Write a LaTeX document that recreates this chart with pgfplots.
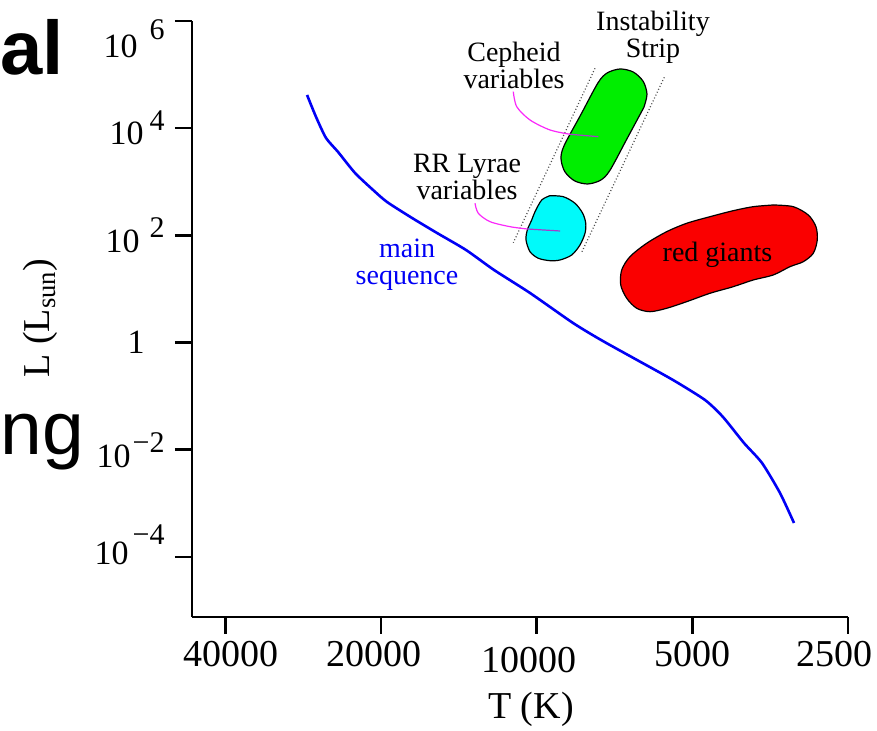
\documentclass[border=0pt]{standalone}
\usepackage{fontspec}
\setmainfont{Liberation Serif}
\newfontfamily\arialfont{Liberation Sans}
\usepackage{pgfplots}
\usepackage{pgfplotstable}
\pgfplotsset{compat=1.18}
\definecolor{msblue}{RGB}{0,0,245}
\definecolor{cgreen}{RGB}{0,238,0}
\definecolor{rrcyan}{RGB}{0,250,250}
\definecolor{rgred}{RGB}{250,0,0}
\definecolor{lead}{RGB}{250,40,250}
\definecolor{leadin}{RGB}{165,60,205}
\newcommand\sups[3]{10\hspace*{#1}\raisebox{#2}{\fontsize{15}{15}\selectfont #3}}

% main sequence: log10 T [K], log10 L [L_sun]
\pgfplotstableread{
logT logL
4.4444 4.6194
4.4270 4.2089
4.4077 3.8171
4.3844 3.5559
4.3516 3.1641
4.3167 2.8470
4.2897 2.6231
4.2413 2.3246
4.1930 2.0447
4.1369 1.7275
4.0827 1.3544
4.0131 0.9253
3.9299 0.3656
3.8757 0.0484
3.8061 -0.3247
3.7365 -0.6979
3.6746 -1.0710
3.6398 -1.3882
3.5992 -1.8733
3.5643 -2.2464
3.5295 -2.8061
3.5024 -3.3658
}\mainseq

\begin{document}
\begin{tikzpicture}
\begin{axis}[
  at={(0,0)}, anchor=south west,
  scale only axis, width=328pt, height=298pt,
  xmin=3.39794, xmax=4.667, ymin=-5.12, ymax=6,
  x dir=reverse,
  axis x line=bottom, axis y line=left,
  axis line style={-, line width=1.3pt},
  tick align=outside,
  major tick length=8.5pt,
  tick style={line width=1.3pt, black},
  minor tick num=0,
  xtick={4.60206,4.30103,4,3.69897,3.39794},
  xticklabels={{\hspace*{5pt}40000},{\hspace*{-7pt}20000},{\hspace*{-8pt}\raisebox{-3pt}[\height][\depth]{10000}},{5000},{\hspace*{-14pt}2500}},
  xticklabel style={font=\fontsize{19}{19}\selectfont, inner sep=0pt, yshift=-3.5pt},
  ytick={6,4,2,0,-2,-4},
  yticklabels={
    {\raisebox{-9pt}[\height][\depth]{\sups{6pt}{9pt}{6}}},
    {\sups{3pt}{7pt}{4}},
    {\sups{5pt}{7.5pt}{2}},
    {\makebox[18.5pt][l]{1}},
    {\sups{1pt}{7.5pt}{−2}},
    {\raisebox{6pt}[\height][\depth]{\sups{2pt}{10pt}{−4}}}},
  yticklabel style={font=\fontsize{17}{17}\selectfont, inner sep=0pt, anchor=east, xshift=-5pt},
  xlabel={T (K)},
  xlabel style={font=\fontsize{19}{19}\selectfont, at={(axis description cs:0.5168,-0.1695)}, anchor=base},
  ylabel={L (L\textsubscript{sun})},
  ylabel style={font=\fontsize{19}{19}\selectfont, at={(axis description cs:-0.2165,0.5017)}, anchor=base, rotate=0},
  clip=false,
]
% instability strip (dotted borders)
\addplot[draw=black!70, line width=0.6pt, dash pattern=on 0.5pt off 1.1pt] coordinates {(3.8873,5.1175) (4.0454,1.8636)};
\addplot[draw=black!70, line width=0.6pt, dash pattern=on 0.5pt off 1.1pt] coordinates {(3.7533,4.9496) (3.9131,1.6846)};
% Cepheid variables region
\addplot[fill=cgreen, draw=black, line width=0.6pt, smooth, tension=0.5] coordinates {
 (3.7928,4.3880) (3.7868,4.6324) (3.7941,4.8731) (3.8131,5.0466) (3.8384,5.1045) (3.8633,5.0336) (3.8813,4.8507)
 (3.9142,4.2630) (3.9471,3.6753) (3.9531,3.4309) (3.9458,3.1902) (3.9268,3.0167) (3.9015,2.9589) (3.8765,3.0298) (3.8585,3.2126)
 (3.8256,3.8004) (3.7928,4.3880)} -- cycle;
% RR Lyrae region
\addplot[fill=rrcyan, draw=black, line width=0.6pt, smooth, tension=0.5] coordinates {
 (3.9744,2.7406) (3.9487,2.7219) (3.9260,2.5988) (3.9112,2.4122) (3.9053,2.2256) (3.9067,2.0390) (3.9164,1.8208) (3.9324,1.6342)
 (3.9550,1.5410) (3.9744,1.5279) (3.9970,1.5727) (4.0131,1.6958) (4.0208,1.9141) (4.0183,2.1007) (4.0098,2.2873) (4.0034,2.4421)
 (3.9904,2.6604) (3.9744,2.7406)} -- cycle;
% red giants region
\addplot[fill=rgred, draw=black, line width=0.6pt, smooth, tension=0.5] coordinates {
 (3.5425,2.5671) (3.5038,2.5354) (3.4748,2.3805) (3.4599,2.1622) (3.4574,1.9141) (3.4651,1.6659) (3.4844,1.5092) (3.5102,1.4159)
 (3.5425,1.2611) (3.5812,1.1678) (3.6199,1.0428) (3.6649,0.9196) (3.7100,0.7629) (3.7487,0.6398) (3.7810,0.5764) (3.8067,0.6398)
 (3.8260,0.8263) (3.8376,1.0745) (3.8357,1.3543) (3.8197,1.6025) (3.7874,1.8525) (3.7487,2.0689) (3.7100,2.2256) (3.6649,2.3488)
 (3.6199,2.4607) (3.5812,2.5354) (3.5425,2.5671)} -- cycle;
% leader lines
\addplot[lead, line width=0.6pt, smooth] coordinates {(4.0454,4.6810) (4.0388,4.4011) (4.0131,4.1530) (3.9744,3.9664) (3.9357,3.8861)};
\addplot[leadin, line width=0.6pt] coordinates {(3.9357,3.8861) (3.8810,3.8414)};
\addplot[lead, line width=0.6pt, smooth] coordinates {(4.1195,2.5988) (4.1131,2.4122) (4.0904,2.2555) (4.0518,2.1622) (4.0189,2.1193)};
\addplot[leadin, line width=0.6pt] coordinates {(4.0189,2.1193) (3.9550,2.0820)};
% main sequence
\addplot[msblue, line width=1.3pt, smooth, tension=0.4] table[x=logT, y=logL] {\mainseq};
% labels
\node[font=\fontsize{14}{13.5}\selectfont, align=center] at (axis cs:3.7752,5.7015) {Instability\\Strip};
\node[font=\fontsize{14}{13.5}\selectfont, align=center] at (axis cs:4.0440,5.1698) {Cepheid\\variables};
\node[font=\fontsize{14}{13.5}\selectfont, align=center] at (axis cs:4.1349,3.0895) {RR Lyrae\\variables};
\node[font=\fontsize{14}{13.5}\selectfont, align=center, text=msblue] at (axis cs:4.2510,1.4477) {main\\sequence};
\node[font=\fontsize{14}{14}\selectfont] at (axis cs:3.6504,1.6343) {red giants};
\end{axis}
\node[anchor=base west, inner sep=0pt, font=\arialfont\bfseries\fontsize{38}{38}\selectfont] at (-96pt,271pt) {al};
\node[anchor=base west, inner sep=0pt, font=\arialfont\fontsize{37.5}{37.5}\selectfont] at (-96pt,81pt) {ng};
\pgfresetboundingbox
\path[use as bounding box] (-96pt,-57pt) rectangle (342.5pt,308.5pt);
\end{tikzpicture}
\end{document}
